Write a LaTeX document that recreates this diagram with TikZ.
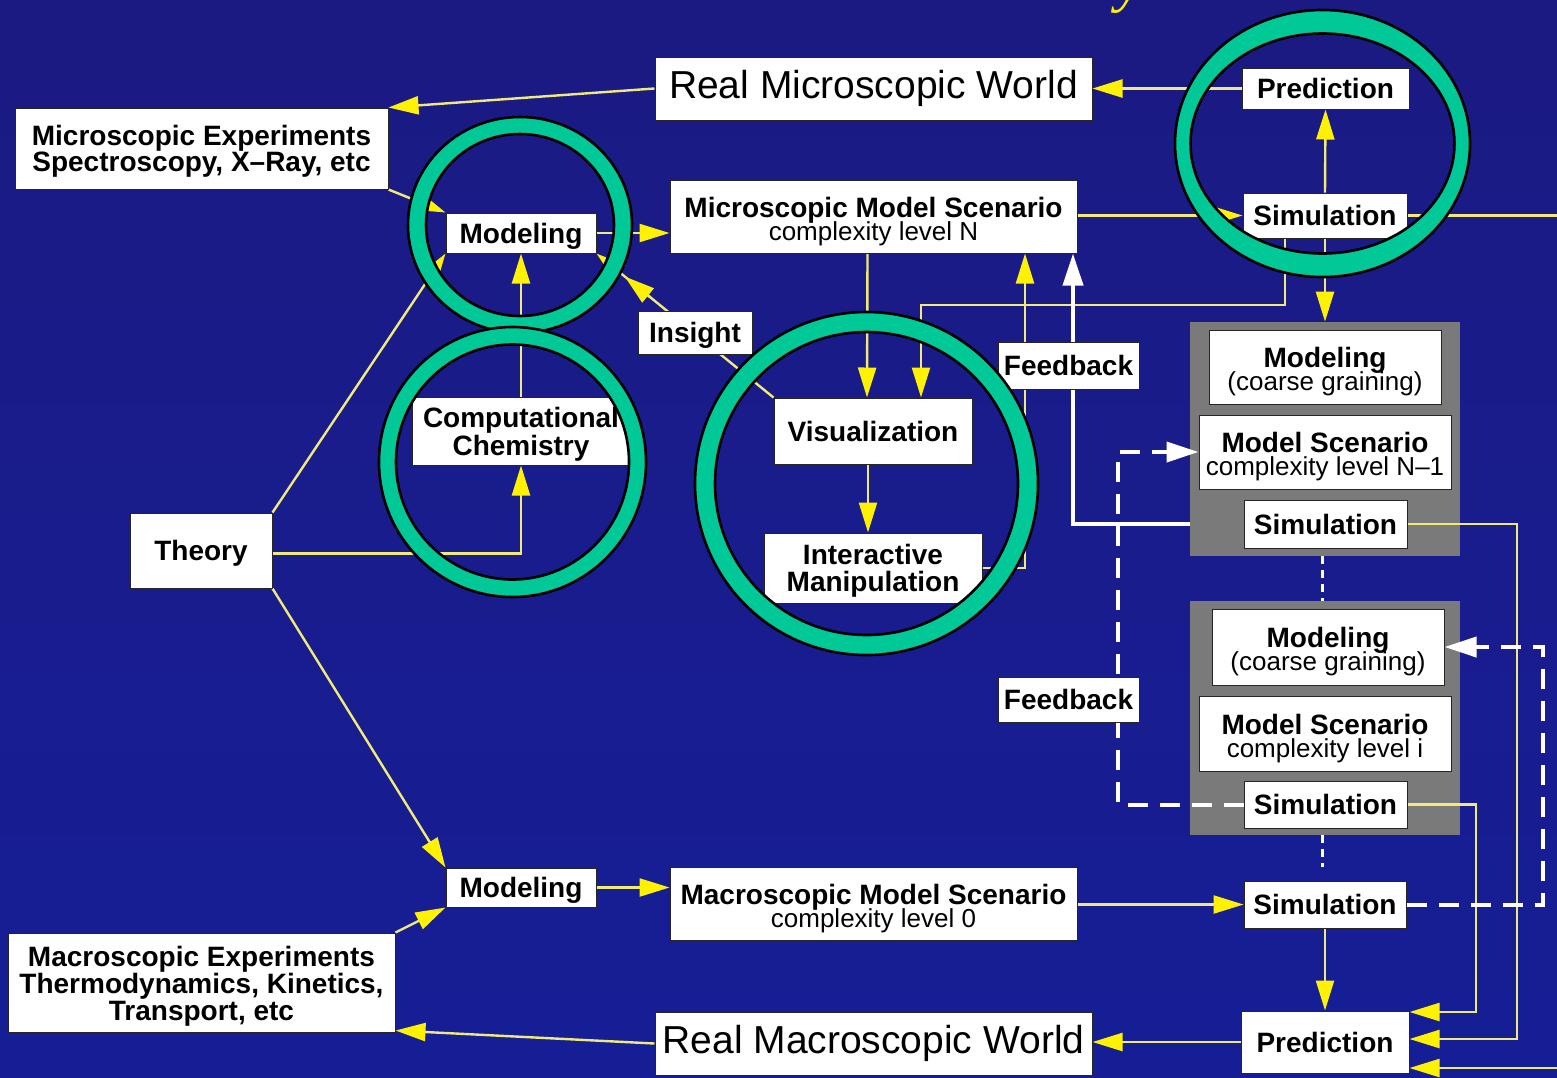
\documentclass[tikz,border=0pt]{standalone}
\usepackage{fontspec}
\setmainfont{Liberation Sans}
\newfontfamily\titleserif{Liberation Serif}
\usetikzlibrary{arrows.meta,calc}
\definecolor{bgtop}{RGB}{27,26,130}
\definecolor{bgbot}{RGB}{22,30,150}
\definecolor{lineyel}{RGB}{240,235,120}
\definecolor{ringgreen}{RGB}{0,200,150}
\definecolor{panelgray}{RGB}{122,122,122}
\pgfdeclarelayer{back}
\pgfdeclarelayer{panels}
\pgfdeclarelayer{lines}
\pgfdeclarelayer{front}
\pgfsetlayers{back,panels,lines,main,front}
\newcommand\subline[1]{{\mdseries\fontsize{13}{12}\selectfont #1}}
\newcommand\tightlines{\lineskiplimit=-20pt\relax}
\newcommand\topstrut[1]{\rule{0pt}{#1}}
\begin{document}
\begin{tikzpicture}[x=0.5pt,y=-0.5pt,
  box/.style={draw=black!85, line width=0.5pt, fill=white, inner sep=0pt, align=center, text=black,
              text depth=0pt, font=\bfseries\fontsize{14}{13}\selectfont},
  twoline/.style={box, font=\bfseries\fontsize{14}{11.5}\selectfont\tightlines},
  world/.style={draw=black!85, line width=0.5pt, fill=white, inner sep=0pt, text=black,
                font=\fontsize{19.5}{20}\selectfont},
  panel/.style={fill=panelgray, draw=none, inner sep=0pt},
  yl/.style={draw=lineyel, line width=1.2pt},
  ya/.style={yl, -{Triangle[length=15pt,width=9pt,fill=yellow,color=yellow]}},
  wa/.style={draw=white, line width=2pt, -{Triangle[length=16pt,width=10pt,fill=white,color=white]}},
  wd/.style={wa, dash pattern=on 10pt off 6pt},
  wdot/.style={draw=white, line width=1.5pt, dash pattern=on 4pt off 3pt},
  ringst/.style={fill=ringgreen, draw=black, line width=1.3pt, even odd rule}
]
\useasboundingbox (0,0) rectangle (1557,1077);
\clip (0,0) rectangle (1557,1077);
\begin{pgfonlayer}{back}
  \shade[top color=bgtop, bottom color=bgbot] (0,0) rectangle (1557,1077);
\end{pgfonlayer}

% title fragment
\node[anchor=base west, inner sep=0pt, text=yellow, font=\titleserif\itshape\fontsize{30}{30}\selectfont] (ttl) at (1116,0) {y};

% panels
\begin{pgfonlayer}{panels}
  \node[panel, minimum width=135pt, minimum height=117pt] (panel1) at (1325,439) {};
  \node[panel, minimum width=135pt, minimum height=117pt] (panel2) at (1325,718) {};
\end{pgfonlayer}

% nodes
\node[world, minimum width=218.5pt, minimum height=31.5pt] (rmw) at (873.5,88.5) {Real Microscopic World};
\node[box, minimum width=186.5pt, minimum height=40.5pt] (mexp) at (201.5,148.5) {Microscopic Experiments\\Spectroscopy, X–Ray, etc};
\node[box, minimum width=75pt, minimum height=20pt] (mod1) at (521,233) {Modeling};
\node[twoline, minimum width=203.5pt, minimum height=36.5pt] (mms) at (873.5,216.5) {\topstrut{12.3pt}Microscopic Model Scenario\\\subline{complexity level N}};
\node[box, minimum width=83.5pt, minimum height=20.5pt] (pred1) at (1325.5,88.5) {Prediction};
\node[box, minimum width=82pt, minimum height=22.5pt] (sim1) at (1325,215.5) {Simulation};
\node[box, minimum width=57pt, minimum height=21.5pt] (insight) at (695,332.5) {Insight};
\node[box, font=\bfseries\fontsize{14}{12.5}\selectfont, minimum width=108.5pt, minimum height=34pt] (cc) at (521,431) {Computational\\Chemistry};
\node[box, minimum width=99pt, minimum height=33pt] (vis) at (873,431) {Visualization};
\node[box, font=\bfseries\fontsize{14}{13.5}\selectfont, minimum width=109pt, minimum height=35pt] (im) at (873,568) {Interactive\\Manipulation};
\node[box, minimum width=70.5pt, minimum height=23.5pt] (fb1) at (1068.5,365.5) {Feedback};
\node[box, minimum width=70.5pt, minimum height=22.5pt] (fb2) at (1068.5,699.5) {Feedback};
\node[box, minimum width=71pt, minimum height=37.5pt] (theory) at (201,550.5) {Theory};
\node[twoline, minimum width=116pt, minimum height=37pt] (cg1) at (1325,367) {\topstrut{12.3pt}Modeling\\\subline{(coarse graining)}};
\node[twoline, minimum width=126pt, minimum height=37pt] (msN1) at (1325,452) {\topstrut{12.3pt}Model Scenario\\\subline{complexity level N–1}};
\node[box, minimum width=81.5pt, minimum height=24pt] (sim2) at (1325.5,524) {Simulation};
\node[twoline, minimum width=116pt, minimum height=38pt] (cg2) at (1328,647) {\topstrut{12.3pt}Modeling\\\subline{(coarse graining)}};
\node[twoline, minimum width=126pt, minimum height=37.5pt] (msi) at (1325,733.5) {\topstrut{12.3pt}Model Scenario\\\subline{complexity level i}};
\node[box, minimum width=81.5pt, minimum height=23.5pt] (sim3) at (1325.5,804.5) {Simulation};
\node[box, minimum width=81pt, minimum height=23.5pt] (sim4) at (1325,904.5) {Simulation};
\node[box, minimum width=75pt, minimum height=19.5pt] (mod2) at (521,887.5) {Modeling};
\node[twoline, minimum width=203.5pt, minimum height=36.5pt] (macms) at (873.5,903.5) {\topstrut{12.3pt}Macroscopic Model Scenario\\\subline{complexity level 0}};
\node[box, font=\bfseries\fontsize{14}{13.5}\selectfont, minimum width=193.5pt, minimum height=49.5pt] (macexp) at (201.5,982.5) {\topstrut{11pt}Macroscopic Experiments\\Thermodynamics, Kinetics,\\Transport, etc};
\node[box, minimum width=84pt, minimum height=31pt] (pred2) at (1325,1042) {Prediction};
\node[world, minimum width=218.5pt, minimum height=31.5pt] (rMw) at (873.5,1043.5) {Real Macroscopic World};

% helper coordinates for routing
\coordinate (xSim) at (1285,305);
\coordinate (xVis) at (921,305);
\coordinate (xIM) at (1025,0);
\coordinate (xW) at (1073,0);
\coordinate (xR2) at (1517,0);
\coordinate (xR3) at (1476,0);
\coordinate (xOff) at (1600,0);
\coordinate (xL) at (1118,0);
\coordinate (xRD) at (1543,0);
\coordinate (insA) at ($(vis.north west)!0.70!(mod1.south east)$);
\coordinate (insB) at ($(vis.north west)!0.84!(mod1.south east)$);

\begin{pgfonlayer}{lines}
  % top half
  \draw[ya] (rmw.west) -- (mexp.north east);
  \draw[ya] (pred1.west) -- (rmw.east);
  \draw[ya] (mexp.south east) -- (mod1.north west);
  \draw[ya] (mod1.east) -- (mod1.east -| mms.west);
  \draw[ya] (cc.north) -- (mod1.south);
  \draw[ya] ([yshift=-1.5pt]theory.east) -| (cc.south);
  \draw[ya] (theory.north east) -- (mod1.south west);
  \draw[ya] (vis.north west) -- (mod1.south east);
  \draw[ya] (insA) -- (insB);
  \draw[ya] ([xshift=-3pt]mms.south) -- ([xshift=-3pt]vis.north);
  \draw[ya] ([xshift=-2.5pt]vis.south) -- ([xshift=-2.5pt]im.north);
  \draw[ya] (sim1.south -| xSim) -- (xSim) -- (xVis) -- (vis.north -| xVis);
  \draw[ya] (sim1.north) -- (pred1.south);
  \draw[ya] (sim1.west -| mms.east) -- (sim1.west);
  \draw[ya] (sim1.south) -- (panel1.north);
  \draw[ya] (im.east) -- (im.east -| xIM) -- (mms.south -| xIM);
  \draw[wa] (panel1.west |- sim2.west) -- (sim2.west -| xW) -- (mms.south -| xW);
  % right side returns to the macroscopic prediction
  \draw[ya] (sim2.east) -- (sim2.east -| xR2) |- ([yshift=1.5pt]pred2.east);
  \draw[ya] (sim3.east) -- (sim3.east -| xR3) |- ([yshift=15pt]pred2.east);
  \draw[ya] (sim1.east) -- (sim1.east -| xOff) |- ([yshift=-13pt]pred2.east);
  % dashed feedback
  \draw[wd] (sim3.west) -- (sim3.west -| xL) |- (msN1.west);
  \draw[wd] (sim4.east) -- (sim4.east -| xRD) |- (cg2.east);
  % dotted continuation
  \draw[wdot] ([xshift=-1.5pt]panel1.south) -- ([xshift=-1.5pt]panel2.north);
  \draw[wdot, shorten >=7pt] ([xshift=-1.5pt]panel2.south) -- ([xshift=-1.5pt]sim4.north);
  % bottom half
  \draw[ya] (theory.south east) -- (mod2.north west);
  \draw[ya] (macexp.north east) -- (mod2.south west);
  \draw[ya] (mod2.east) -- (mod2.east -| macms.west);
  \draw[ya] (sim4.west -| macms.east) -- (sim4.west);
  \draw[ya] (sim4.south) -- (pred2.north);
  \draw[ya] (pred2.west) -- (pred2.west -| rMw.east);
  \draw[ya] (rMw.west) -- ([yshift=1pt]macexp.south east);
\end{pgfonlayer}

% highlight rings
\begin{pgfonlayer}{front}
  \filldraw[ringst] (1322.5,143.5) ellipse [x radius=147.5, y radius=133.5]
                    (1322.5,143.5) ellipse [x radius=132, y radius=110];
  \filldraw[ringst] (520,225) ellipse [x radius=112, y radius=108]
                    (520,225) ellipse [x radius=94, y radius=91];
  \filldraw[ringst] (512.5,462) ellipse [x radius=133.5, y radius=135]
                    (512.5,462) ellipse [x radius=116.5, y radius=117.5];
  \filldraw[ringst] (866.5,483.5) ellipse [x radius=171.5, y radius=171.5]
                    (866.5,483.5) ellipse [x radius=151.5, y radius=151.5];
\end{pgfonlayer}
\end{tikzpicture}
\end{document}
